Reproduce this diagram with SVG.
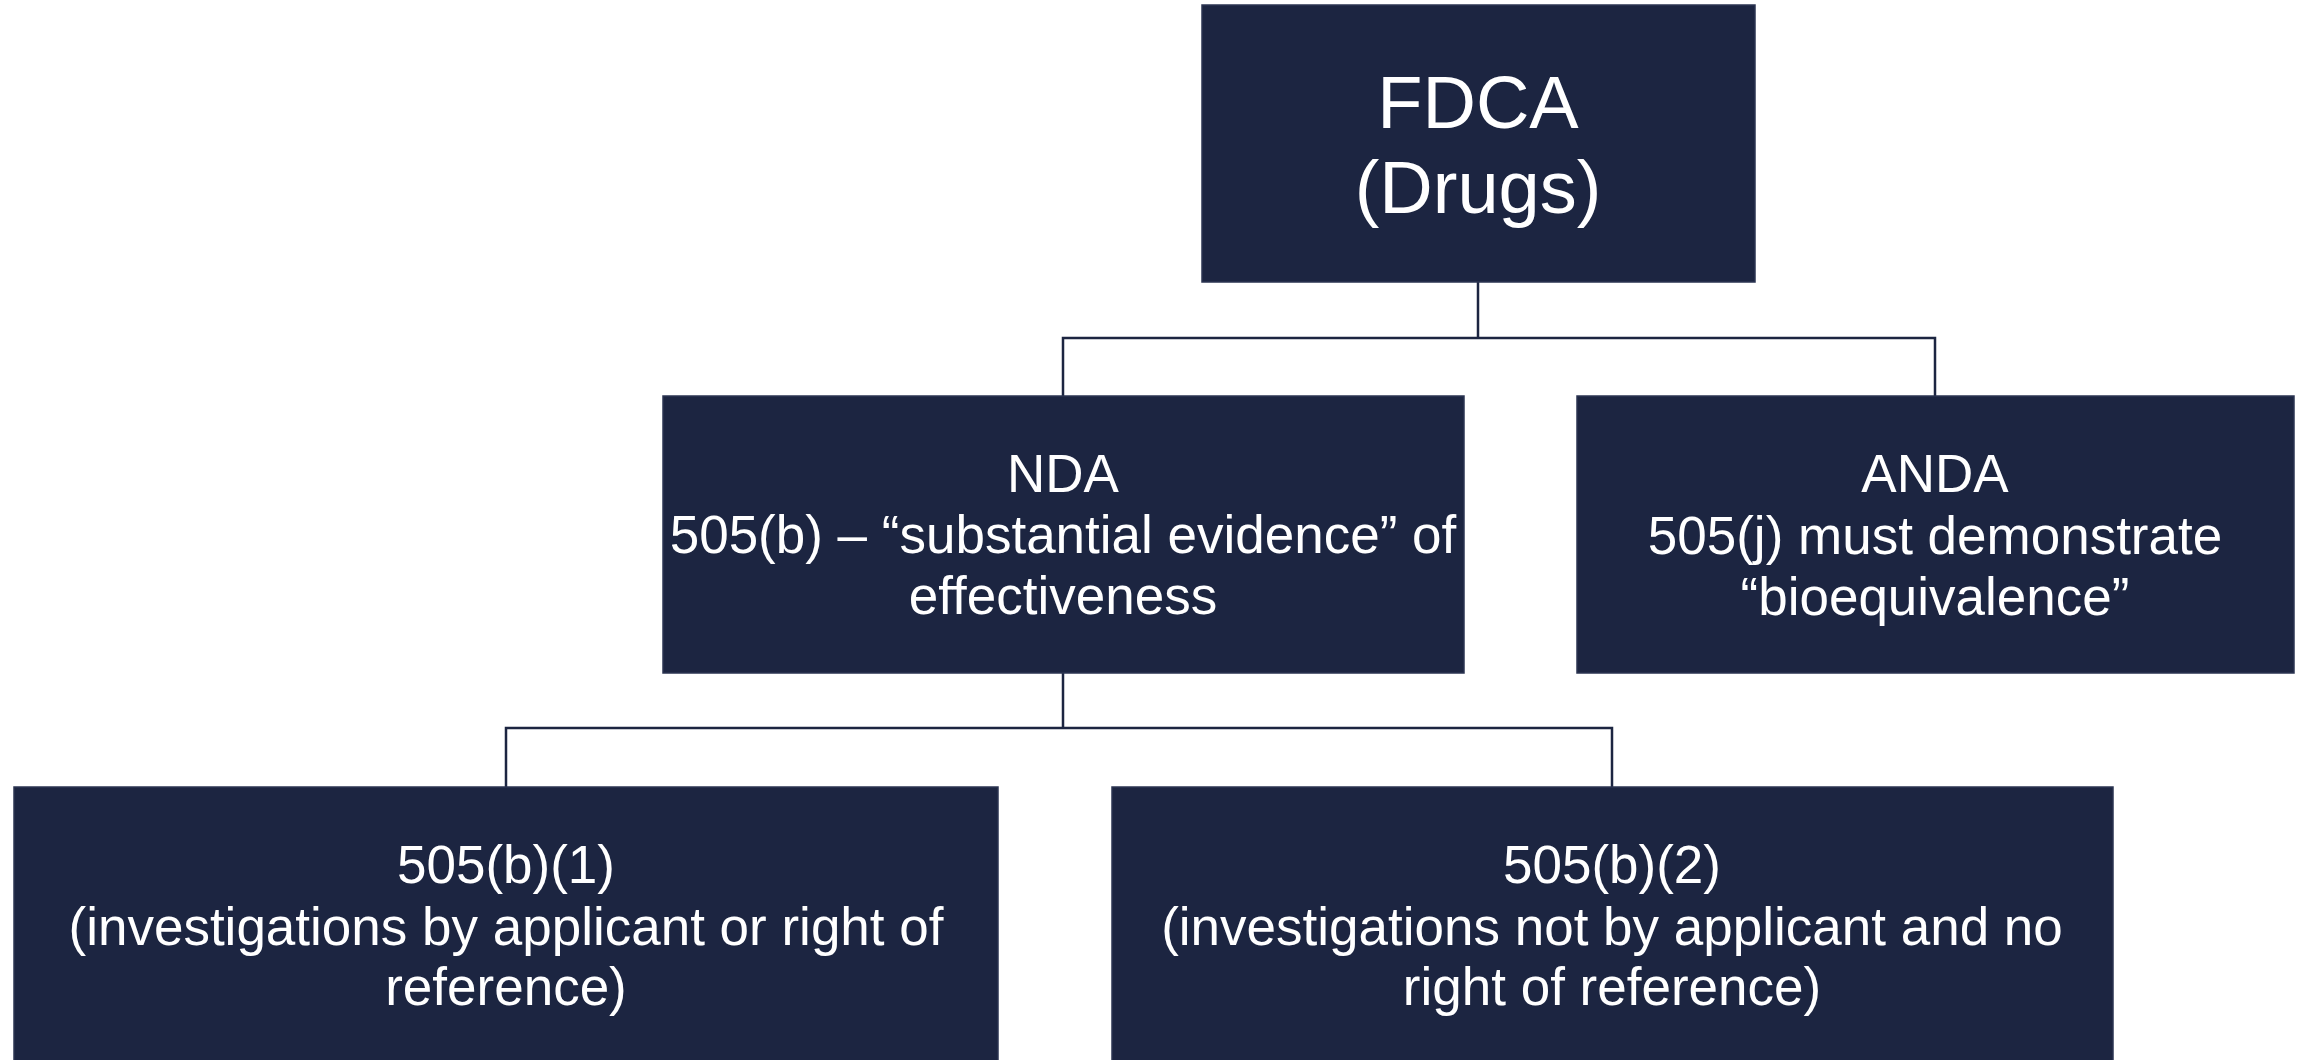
<svg xmlns="http://www.w3.org/2000/svg" width="2304" height="1060" viewBox="0 0 2304 1060">
<style>
.box{fill:#1c2541;stroke:#2b3452;stroke-width:1.5}
.t{fill:#ffffff;font-family:"Liberation Sans",Arial,sans-serif;font-size:53px;text-anchor:middle}
.big{font-size:74px}
.conn{fill:none;stroke:#1c2541;stroke-width:2.5}
</style>
<rect width="2304" height="1060" fill="#ffffff"/>
<g id="connectors">
<path class="conn" d="M1478 282 V338 M1063 396 V338 H1935 V396"/>
<path class="conn" d="M1063 673 V728 M506 787 V728 H1612 V787"/>
</g>
<g id="fdca">
<rect class="box" x="1202" y="5" width="553" height="277"/>
<text class="t big" x="1478" y="128">FDCA</text>
<text class="t big" x="1478" y="213">(Drugs)</text>
</g>
<g id="nda">
<rect class="box" x="663" y="396" width="801" height="277"/>
<text class="t" x="1063" y="492">NDA</text>
<text class="t" x="1063" y="553">505(b) – “substantial evidence” of</text>
<text class="t" x="1063" y="614">effectiveness</text>
</g>
<g id="anda">
<rect class="box" x="1577" y="396" width="717" height="277"/>
<text class="t" x="1935" y="492">ANDA</text>
<text class="t" x="1935" y="554">505(j) must demonstrate</text>
<text class="t" x="1935" y="615">“bioequivalence”</text>
</g>
<g id="b1">
<rect class="box" x="14" y="787" width="984" height="280"/>
<text class="t" x="506" y="883">505(b)(1)</text>
<text class="t" x="506" y="945">(investigations by applicant or right of</text>
<text class="t" x="506" y="1005">reference)</text>
</g>
<g id="b2">
<rect class="box" x="1112" y="787" width="1001" height="280"/>
<text class="t" x="1612" y="883">505(b)(2)</text>
<text class="t" x="1612" y="945">(investigations not by applicant and no</text>
<text class="t" x="1612" y="1005">right of reference)</text>
</g>
</svg>
